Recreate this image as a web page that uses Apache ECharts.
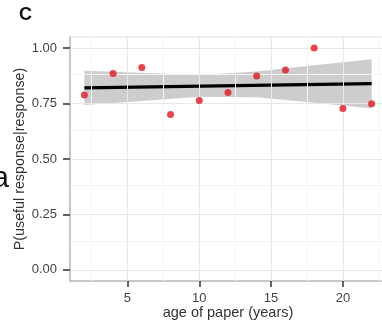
<!DOCTYPE html>
<html><head><meta charset="utf-8">
<script src="https://cdn.jsdelivr.net/npm/echarts@6/dist/echarts.min.js"></script>
<style>html,body{margin:0;padding:0;background:#fff}#c{width:382px;height:322px}</style>
</head><body><div id="c"></div>
<script>
const ages = [2, 4, 6, 8, 10, 12, 14, 16, 18, 20, 22];
const pUseful = [0.788, 0.886, 0.913, 0.701, 0.764, 0.800, 0.874, 0.901, 1.0, 0.728, 0.749];
const fitX = [2, 22];
const fitY = [0.821, 0.840];
const bandX = [2, 6, 10, 14, 18, 22];
const bandUpper = [0.898, 0.889, 0.879, 0.894, 0.923, 0.950];
const bandLower = [0.743, 0.762, 0.781, 0.778, 0.754, 0.728];
const xTicks = [5, 10, 15, 20];
const yTicks = [0, 0.25, 0.5, 0.75, 1.0];
const xMinor = [2.5, 7.5, 12.5, 17.5, 22.5];
const yMinor = [0.125, 0.375, 0.625, 0.875];

const FONT = 'Liberation Sans, Arial, sans-serif';
const chart = echarts.init(document.getElementById('c'), null, {renderer: 'canvas'});

const gridLines = [];
xMinor.forEach(v => gridLines.push({xAxis: v, lineStyle: {color: '#f4f4f4', width: 1, type: 'solid'}}));
yMinor.forEach(v => gridLines.push({yAxis: v, lineStyle: {color: '#f4f4f4', width: 1, type: 'solid'}}));
xTicks.forEach(v => gridLines.push({xAxis: v, lineStyle: {color: '#e8e8e8', width: 1, type: 'solid'}}));
yTicks.forEach(v => gridLines.push({yAxis: v, lineStyle: {color: '#e8e8e8', width: 1, type: 'solid'}}));

const bandPoly = bandX.map((x, i) => [x, bandUpper[i]]).concat(
  bandX.slice().reverse().map((x, i) => [x, bandLower[bandX.length - 1 - i]]));

chart.setOption({
  animation: false,
  backgroundColor: '#fff',
  grid: {left: 70, right: -4, top: 37, bottom: 41, show: true, borderColor: '#dcdcdc', borderWidth: 1,
    backgroundColor: '#fff', containLabel: false, outerBoundsMode: 'none'},
  xAxis: {
    type: 'value', min: 1, max: 23,
    name: 'age of paper (years)', nameLocation: 'middle', nameGap: 24, nameMoveOverlap: false,
    nameTextStyle: {fontFamily: FONT, fontSize: 14.5, color: '#333'},
    axisLine: {show: true, onZero: false, lineStyle: {color: '#bbbbbb', width: 1.5}},
    axisTick: {show: true, length: 6, customValues: xTicks, lineStyle: {color: '#333', width: 1.5}},
    axisLabel: {customValues: xTicks, margin: 11, fontFamily: FONT, fontSize: 13, color: '#444'},
    splitLine: {show: false}
  },
  yAxis: {
    type: 'value', min: -0.05, max: 1.05,
    name: 'P(useful response|response)', nameLocation: 'middle', nameGap: 43, nameRotate: 90, nameMoveOverlap: false,
    nameTextStyle: {fontFamily: FONT, fontSize: 14.3, color: '#333'},
    axisLine: {show: true, onZero: false, lineStyle: {color: '#bbbbbb', width: 1.5}},
    axisTick: {show: true, length: 7, customValues: yTicks, lineStyle: {color: '#333', width: 1.5}},
    axisLabel: {customValues: yTicks, margin: 13, fontFamily: FONT, fontSize: 13, color: '#444',
      formatter: v => v.toFixed(2)},
    splitLine: {show: false}
  },
  graphic: [
    {type: 'text', left: 19, top: 6, style: {text: 'C', font: 'bold 18px ' + FONT, fill: '#111'}},
    {type: 'text', x: 9, y: 194, style: {text: 'a', font: '30px ' + FONT, fill: '#111', align: 'right', verticalAlign: 'bottom'}}
  ],
  series: [
    {
      type: 'line', data: [], silent: true,
      markLine: {silent: true, symbol: 'none', label: {show: false}, data: gridLines}
    },
    {
      type: 'custom', silent: true, z: 3,
      data: [0],
      renderItem: function (params, api) {
        const pts = bandPoly.map(p => api.coord(p));
        return {type: 'polygon', shape: {points: pts}, style: {fill: '#c8c8c8', opacity: 0.9}};
      },
      clip: true
    },
    {
      type: 'line', z: 4, data: fitX.map((x, i) => [x, fitY[i]]), showSymbol: false, symbol: 'none',
      lineStyle: {color: '#000', width: 3.2}
    },
    {
      type: 'scatter', z: 5, data: ages.map((x, i) => [x, pUseful[i]]), symbolSize: 7,
      itemStyle: {color: '#e0161e'}
    }
  ]
});
</script></body></html>
